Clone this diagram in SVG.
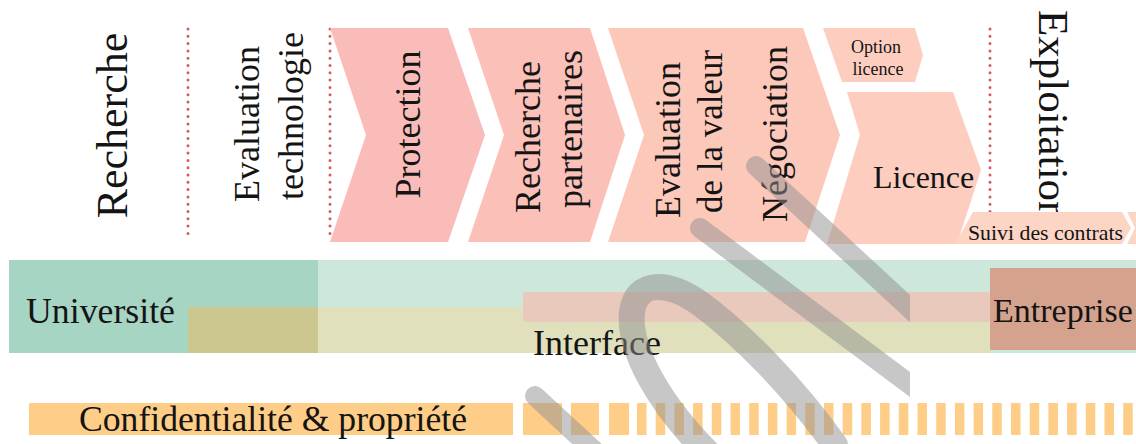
<svg xmlns="http://www.w3.org/2000/svg" width="1136" height="444" viewBox="0 0 1136 444">
  <style>
    .serif { font-family: "Liberation Serif", "Times New Roman", serif; fill: #141414; }
    .dots { fill: none; stroke: #d75a5a; stroke-width: 3; stroke-linecap: round; stroke-dasharray: 0 7.3; }
    .step1 { fill: #fabcb9; }
    .step2 { fill: #fbc0b8; }
    .step3 { fill: #fcc8ba; }
    .step4 { fill: #fdcebf; }
    .step5 { fill: #fdd5c5; }
    .mark { fill: none; stroke: #8f8f8f; stroke-opacity: 0.5; stroke-linecap: round; }
  </style>
  <defs>
    <clipPath id="markClip">
      <rect x="470" y="150" width="440" height="294"/>
    </clipPath>
  </defs>

  <rect width="1136" height="444" fill="#ffffff"/>

  <!-- phase dividers -->
  <g id="dividers">
    <line class="dots" x1="188" y1="29" x2="188" y2="238"/>
    <line class="dots" x1="330" y1="29" x2="330" y2="238"/>
    <line class="dots" x1="990" y1="29" x2="990" y2="240"/>
  </g>

  <!-- phase labels -->
  <g id="phase-recherche">
    <text class="serif" font-size="44" text-anchor="middle" transform="translate(127,125.5) rotate(-90)">Recherche</text>
  </g>
  <g id="phase-evaluation-technologie">
    <text class="serif" font-size="36" transform="translate(259,202) rotate(-90)">Evaluation</text>
    <text class="serif" font-size="36" transform="translate(303,200) rotate(-90)">technologie</text>
  </g>

  <!-- process steps -->
  <g id="step-protection">
    <polygon class="step1" points="330,28 448,28 485,135 448,242 330,242 366,135"/>
    <text class="serif" font-size="36" text-anchor="middle" transform="translate(420,124.5) rotate(-90)">Protection</text>
  </g>
  <g id="step-recherche-partenaires">
    <polygon class="step2" points="468,28 590,28 625,135 590,242 468,242 504,135"/>
    <text class="serif" font-size="36" transform="translate(540,213) rotate(-90)">Recherche</text>
    <text class="serif" font-size="36" transform="translate(582,208) rotate(-90)">partenaires</text>
  </g>
  <g id="step-evaluation-negociation">
    <polygon class="step3" points="608,28 803,28 840,135 805,242 608,242 644,135"/>
    <text class="serif" font-size="36" transform="translate(680,218) rotate(-90)">Evaluation</text>
    <text class="serif" font-size="35" transform="translate(722,213) rotate(-90)">de la valeur</text>
    <text class="serif" font-size="36" transform="translate(787,222) rotate(-90)">Négociation</text>
  </g>
  <g id="step-option-licence">
    <polygon class="step4" points="823,28 915,28 923,55 915,82 842,82"/>
    <text class="serif" font-size="18" text-anchor="middle" x="876" y="53" fill="#333">Option</text>
    <text class="serif" font-size="18" text-anchor="middle" x="878" y="75" fill="#333">licence</text>
  </g>
  <g id="step-licence">
    <polygon class="step4" points="847,92 953,92 981,170 957,244 827,244 860,135"/>
    <text class="serif" font-size="32" x="873" y="188">Licence</text>
  </g>
  <g id="phase-exploitation">
    <text class="serif" font-size="43" transform="translate(1039,10) rotate(90)">Exploitation</text>
  </g>
  <g id="step-suivi-contrats">
    <polygon class="step5" points="973,212 1122,212 1131,228 1122,244 955,244"/>
    <polygon class="step5" points="1127,212 1136,212 1136,244 1127,244 1135,228"/>
    <text class="serif" font-size="21" x="968" y="240" textLength="155" lengthAdjust="spacingAndGlyphs">Suivi des contrats</text>
  </g>

  <!-- actor bands -->
  <g id="band-universite">
    <rect x="9" y="260" width="309" height="93" fill="#a7d5c4"/>
    <rect x="188" y="307" width="130" height="46" fill="#ccc78f"/>
    <text class="serif" font-size="35" x="26" y="323" textLength="149" lengthAdjust="spacingAndGlyphs">Université</text>
  </g>
  <g id="band-interface">
    <rect x="318" y="260" width="818" height="93" fill="#cde7db"/>
    <rect x="318" y="307" width="672" height="46" fill="#e1e0bd"/>
    <rect x="523" y="292" width="467" height="30" rx="3" fill="#e8c9bc"/>
    <text class="serif" font-size="36" x="533" y="355">Interface</text>
  </g>
  <g id="band-entreprise">
    <rect x="990" y="268" width="146" height="82" fill="#d5a28e"/>
    <text class="serif" font-size="34" x="993" y="322">Entreprise</text>
  </g>

  <!-- confidentiality bar: solid, then dashed -->
  <g id="bar-confidentialite">
    <rect x="29" y="403" width="484" height="32" fill="#fecd88"/>
    <rect x="523" y="403" width="39" height="32" fill="#fecd88"/>
    <rect x="571" y="403" width="28" height="32" fill="#fecd88"/>
    <rect x="609" y="403" width="20" height="32" fill="#fecd88"/>
    <line x1="637" y1="419" x2="1133" y2="419" stroke="#fecd88" stroke-width="32" stroke-dasharray="9.5 9.2"/>
    <text class="serif" font-size="35" x="79" y="431" textLength="388" lengthAdjust="spacingAndGlyphs">Confidentialité &amp; propriété</text>
  </g>

  <!-- grey swoosh overlay -->
  <g id="watermark" clip-path="url(#markClip)">
    <path class="mark" stroke-width="20" d="M535,396 L600,456"/>
    <path class="mark" stroke-width="26" d="M710,455 C660,405 628,350 632,312 C636,280 668,280 702,305 C742,335 792,385 835,445"/>
    <path class="mark" stroke-width="20" d="M700,228 L920,392"/>
    <path class="mark" stroke-width="20" d="M756,166 L920,318"/>
  </g>
</svg>
